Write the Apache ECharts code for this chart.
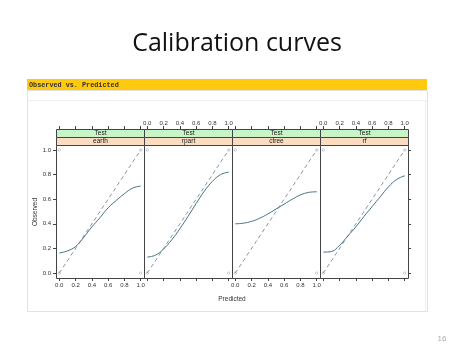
<!DOCTYPE html>
<html>
<head>
<meta charset="utf-8">
<script src="https://cdn.jsdelivr.net/npm/echarts@6/dist/echarts.min.js"></script>
<style>
html,body{margin:0;padding:0;background:#fff;}
#c{width:474px;height:355px;}
</style>
</head>
<body>
<div id="c"></div>
<script>
// ---- data ----
const predicted = [0, 0.1, 0.2, 0.3, 0.4, 0.5, 0.6, 0.7, 0.8, 0.9, 1.0];
const earthObs = [0.163, 0.18, 0.215, 0.29, 0.375, 0.45, 0.53, 0.59, 0.645, 0.69, 0.707];
const rpartObs = [0.13, 0.145, 0.195, 0.27, 0.36, 0.46, 0.565, 0.665, 0.745, 0.80, 0.82];
const ctreeObs = [0.40, 0.405, 0.42, 0.445, 0.48, 0.52, 0.56, 0.60, 0.635, 0.655, 0.66];
const rfObs = [0.17, 0.175, 0.225, 0.30, 0.375, 0.46, 0.54, 0.62, 0.70, 0.76, 0.79];
const models = ['earth', 'rpart', 'ctree', 'rf'];
const observedByModel = [earthObs, rpartObs, ctreeObs, rfObs];
const stripOuter = 'Test';
const tickValues = [0, 0.2, 0.4, 0.6, 0.8, 1.0];
const diagonalX = [0, 1];
const diagonalY = [0, 1];
const cornerX = [0, 0, 1, 1];
const cornerY = [0, 1, 0, 1];
const slideTitle = 'Calibration curves';
const headerText = 'Observed vs. Predicted';
const xTitle = 'Predicted';
const yTitle = 'Observed';
const pageNumber = '16';

// ---- layout ----
const PL = 56, PW = 88, PT = 145, PH = 133, SH = 8;
const AX_MIN = -0.04, AX_MAX = 1.04;
const frameCol = '#444';
const labelCol = '#333';
const fmt = v => v.toFixed(1);

const grids = [], xAxes = [], yAxes = [], series = [], graphics = [];

models.forEach((m, i) => {
  grids.push({left: PL + PW * i, top: PT, width: PW, height: PH, show: false});
  // bottom axis
  xAxes.push({gridIndex: i, type: 'value', min: AX_MIN, max: AX_MAX, position: 'bottom',
    splitLine: {show: false}, axisLine: {show: false, onZero: false},
    axisTick: {show: true, length: 3, customValues: tickValues, lineStyle: {color: frameCol}},
    axisLabel: {show: i % 2 === 0, customValues: tickValues, formatter: fmt, fontSize: 6,
      margin: 4, color: labelCol, fontFamily: 'Liberation Sans'}});
  // top axis (above strips)
  xAxes.push({gridIndex: i, type: 'value', min: AX_MIN, max: AX_MAX, position: 'top', offset: SH * 2,
    splitLine: {show: false}, axisLine: {show: false, onZero: false},
    axisTick: {show: true, length: 3, customValues: tickValues, lineStyle: {color: frameCol}},
    axisLabel: {show: i % 2 === 1, customValues: tickValues, formatter: fmt, fontSize: 6,
      margin: 3, color: labelCol, fontFamily: 'Liberation Sans'}});
  yAxes.push({gridIndex: i, type: 'value', min: AX_MIN, max: AX_MAX, position: 'left',
    splitLine: {show: false}, axisLine: {show: false, onZero: false},
    axisTick: {show: i === 0, length: 3, customValues: tickValues, lineStyle: {color: frameCol}},
    axisLabel: {show: i === 0, customValues: tickValues, formatter: fmt, fontSize: 6,
      margin: 5, color: labelCol, fontFamily: 'Liberation Sans'}});
});
// right ticks on last panel
yAxes.push({gridIndex: 3, type: 'value', min: AX_MIN, max: AX_MAX, position: 'right',
  splitLine: {show: false}, axisLine: {show: false, onZero: false},
  axisTick: {show: true, length: 3, customValues: tickValues, lineStyle: {color: frameCol}},
  axisLabel: {show: false}});

models.forEach((m, i) => {
  const obs = observedByModel[i];
  series.push({type: 'line', xAxisIndex: 2 * i, yAxisIndex: i, symbol: 'none', silent: true,
    data: diagonalX.map((x, k) => [x, diagonalY[k]]),
    lineStyle: {color: '#8497a8', width: 1, type: [4, 3]}});
  series.push({type: 'line', xAxisIndex: 2 * i, yAxisIndex: i, symbol: 'none', smooth: 0.4, silent: true,
    data: predicted.map((x, k) => [x, obs[k]]),
    lineStyle: {color: '#44727f', width: 1}});
  series.push({type: 'scatter', xAxisIndex: 2 * i, yAxisIndex: i, symbol: 'circle', symbolSize: 2.5, silent: true,
    data: cornerX.map((x, k) => [x, cornerY[k]]),
    itemStyle: {color: 'rgba(255,255,255,0)', borderColor: '#8c9cab', borderWidth: 0.6}, z: 3});
  const x0 = PL + PW * i + 0.5;
  // panel frame
  graphics.push({type: 'rect', shape: {x: x0, y: PT + 0.5, width: PW, height: PH},
    style: {fill: null, stroke: frameCol, lineWidth: 1}, z: 10});
  // strips
  graphics.push({type: 'rect', shape: {x: x0, y: PT - 2 * SH + 0.5, width: PW, height: SH},
    style: {fill: '#c8f5c8', stroke: frameCol, lineWidth: 1}, z: 10});
  graphics.push({type: 'rect', shape: {x: x0, y: PT - SH + 0.5, width: PW, height: SH},
    style: {fill: '#fbdcc0', stroke: frameCol, lineWidth: 1}, z: 10});
  graphics.push({type: 'text', x: x0 + PW / 2, y: PT - 1.5 * SH + 0.5,
    style: {text: stripOuter, fontSize: 6.5, fontFamily: 'Liberation Sans', fill: '#222', align: 'center', verticalAlign: 'middle'}, z: 11});
  graphics.push({type: 'text', x: x0 + PW / 2, y: PT - 0.5 * SH + 0.5,
    style: {text: m, fontSize: 6.5, fontFamily: 'Liberation Sans', fill: '#222', align: 'center', verticalAlign: 'middle'}, z: 11});
});

// slide decorations
graphics.unshift(
  {type: 'rect', shape: {x: 27.5, y: 90.5, width: 400, height: 221}, style: {fill: null, stroke: '#e2e2e2', lineWidth: 1}, z: 0},
  {type: 'line', shape: {x1: 28, y1: 100.5, x2: 427, y2: 100.5}, style: {stroke: '#efefef', lineWidth: 1}, z: 0},
  {type: 'line', shape: {x1: 425.5, y1: 101, x2: 425.5, y2: 311}, style: {stroke: '#eeeeee', lineWidth: 1}, z: 0},
  {type: 'rect', shape: {x: 27, y: 79, width: 400, height: 11}, style: {fill: '#ffc90e'}, z: 1},
  {type: 'text', x: 29, y: 85, style: {text: headerText, fontSize: 6.8, fontFamily: 'Liberation Mono', fontWeight: 'bold', fill: '#333', verticalAlign: 'middle'}, z: 2},
  {type: 'text', x: 237, y: 44, style: {text: slideTitle, fontSize: 25, fontFamily: 'Open Sans', fill: '#111', align: 'center', verticalAlign: 'middle'}, z: 2},
  {type: 'text', x: 232, y: 299, style: {text: xTitle, fontSize: 6.5, fontFamily: 'Liberation Sans', fill: '#333', align: 'center', verticalAlign: 'middle'}, z: 2},
  {type: 'text', x: 35, y: 212, rotation: Math.PI / 2, style: {text: yTitle, fontSize: 6.5, fontFamily: 'Liberation Sans', fill: '#333', align: 'center', verticalAlign: 'middle'}, z: 2},
  {type: 'text', x: 442, y: 339, style: {text: pageNumber, fontSize: 8, fontFamily: 'Liberation Sans', fill: '#aaa', align: 'center', verticalAlign: 'middle'}, z: 2}
);

const chart = echarts.init(document.getElementById('c'), null, {renderer: 'canvas'});
chart.setOption({
  animation: false,
  backgroundColor: '#fff',
  grid: grids,
  xAxis: xAxes,
  yAxis: yAxes,
  series: series,
  graphic: graphics
});
</script>
</body>
</html>
